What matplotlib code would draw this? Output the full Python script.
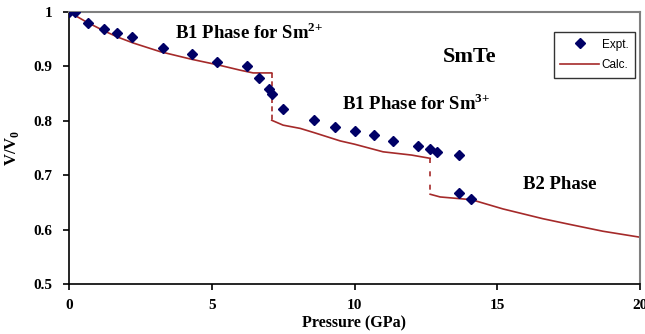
import matplotlib.pyplot as plt

# experimental compression data for SmTe
expt_p = [0.0, 0.2, 0.67, 1.23, 1.68, 2.2, 3.3, 4.3, 5.2, 6.25, 6.67, 7.02, 7.12,
          7.48, 8.58, 9.32, 10.0, 10.7, 11.35, 12.22, 12.64, 12.89, 13.66, 13.66, 14.08]
expt_v = [1.0, 1.0, 0.980, 0.969, 0.961, 0.954, 0.934, 0.923, 0.908, 0.901, 0.879, 0.858, 0.849,
          0.822, 0.801, 0.789, 0.782, 0.774, 0.763, 0.754, 0.749, 0.743, 0.737, 0.667, 0.656]

# calculated curves, one per phase
calc1_p = [0.0, 0.6, 1.2, 1.7, 2.25, 3.2, 4.3, 5.2, 6.0, 6.45, 7.1]
calc1_v = [1.0, 0.982, 0.966, 0.954, 0.943, 0.927, 0.913, 0.903, 0.893, 0.888, 0.888]
calc2_p = [7.1, 7.5, 8.1, 8.6, 9.5, 10.0, 11.0, 12.0, 12.65]
calc2_v = [0.801, 0.792, 0.786, 0.778, 0.763, 0.757, 0.743, 0.737, 0.731]
calc3_p = [12.65, 13.0, 14.1, 15.2, 16.6, 17.5, 18.7, 20.0]
calc3_v = [0.665, 0.660, 0.655, 0.638, 0.620, 0.610, 0.597, 0.586]

red = '#A52A2A'
navy = '#000066'
serif = 'Liberation Serif'

plt.rcParams['mathtext.fontset'] = 'custom'
plt.rcParams['mathtext.rm'] = 'Liberation Serif'
plt.rcParams['mathtext.bf'] = 'Liberation Serif:bold'

fig = plt.figure(figsize=(6.45, 3.34), dpi=100)
ax = fig.add_axes([69/645, 1 - 284/334, 571/645, 272/334])

ax.plot(calc1_p, calc1_v, color=red, lw=1.2, label='Calc.')
ax.plot(calc2_p, calc2_v, color=red, lw=1.2)
ax.plot(calc3_p, calc3_v, color=red, lw=1.2)
# phase transitions
ax.plot([calc1_p[-1], calc2_p[0]], [calc1_v[-1], calc2_v[0]], color=red, lw=1.2, ls=(0, (3, 2)))
ax.plot([calc2_p[-1], calc3_p[0]], [calc2_v[-1], calc3_v[0]], color=red, lw=1.2, ls=(0, (3, 5)))

ax.plot(expt_p, expt_v, ls='none', marker='D', ms=5, color=navy, label='Expt.', zorder=3)

ax.set_xlim(0, 20)
ax.set_ylim(0.5, 1.0)
ax.set_xticks([0, 5, 10, 15, 20])
ax.set_yticks([0.5, 0.6, 0.7, 0.8, 0.9, 1.0])
ax.set_yticklabels(['0.5', '0.6', '0.7', '0.8', '0.9', '1'])
ax.tick_params(direction='out', length=4, width=1.2, labelsize=11)
ax.tick_params(axis='x', pad=7)
ax.tick_params(axis='y', pad=8)
for lbl in ax.get_xticklabels() + ax.get_yticklabels():
    lbl.set_fontfamily(serif)
    lbl.set_fontweight('bold')

for s in ['top', 'right']:
    ax.spines[s].set_color('#808080')
    ax.spines[s].set_linewidth(1.5)
for s in ['left', 'bottom']:
    ax.spines[s].set_linewidth(1.2)

ax.set_xlabel('Pressure (GPa)', fontfamily=serif, fontweight='bold', fontsize=11.5, labelpad=2)
ax.set_ylabel('V/V$_\\mathbf{0}$', fontfamily=serif, fontweight='bold', fontsize=12, labelpad=9)

tkw = dict(fontfamily=serif, fontweight='bold', fontsize=13.5, ha='left', va='center')
ax.text(3.7, 0.962, 'B1 Phase for Sm$^{\\mathbf{2{+}}}$', **tkw)
ax.text(13.1, 0.918, 'SmTe', fontfamily=serif, fontweight='bold', fontsize=16, ha='left', va='center')
ax.text(9.55, 0.832, 'B1 Phase for Sm$^{\\mathbf{3{+}}}$', **tkw)
ax.text(15.9, 0.682, 'B2 Phase', **tkw)

handles, labels = ax.get_legend_handles_labels()
leg = ax.legend(handles[::-1], labels[::-1], loc='upper right', bbox_to_anchor=(0.991, 0.926),
                prop={'family': 'Liberation Sans', 'size': 8.5}, frameon=True, fancybox=False,
                handlelength=3.3, borderpad=0.55, labelspacing=0.75, handletextpad=0.2,
                borderaxespad=0)
leg.get_frame().set_edgecolor('black')
leg.get_frame().set_linewidth(1.0)

fig.savefig('out.png', dpi=100)
